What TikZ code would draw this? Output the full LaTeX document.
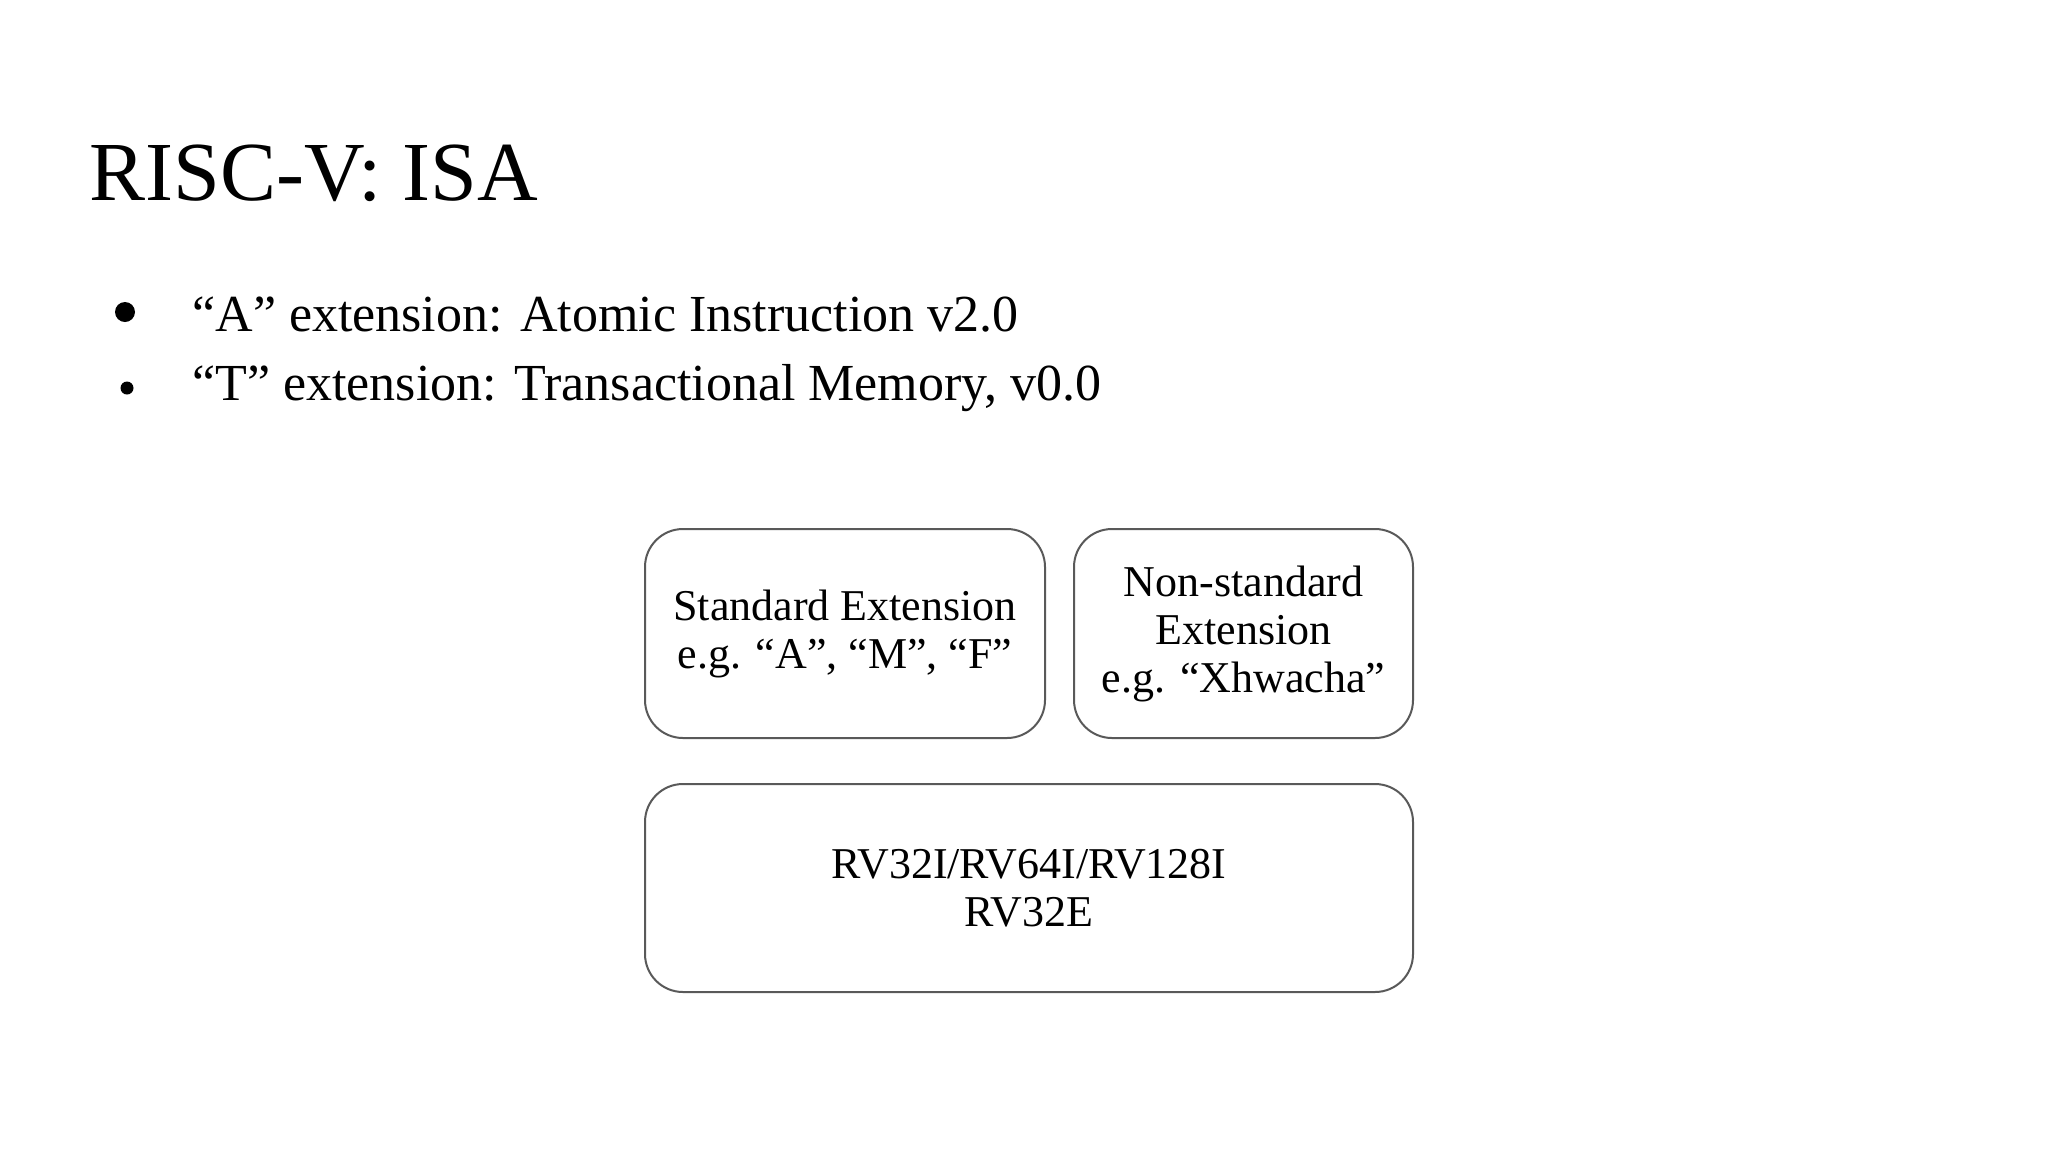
\documentclass[tikz,border=0pt]{standalone}
\usepackage{fontspec}
\setmainfont{Liberation Serif}
\begin{document}
\begin{tikzpicture}[x=0.5pt,y=-0.5pt,
  box/.style={draw=black!65,line width=1pt,rounded corners=19pt,align=center,
    font=\fontsize{22}{24}\selectfont,inner sep=0pt},
  bul/.style={anchor=base west,font=\fontsize{26}{30}\selectfont,inner sep=0pt}]
\useasboundingbox (0,0) rectangle (2048,1152);
\node[anchor=base west,inner sep=0pt,font=\fontsize{42}{48}\selectfont] (title) at (89,200) {RISC-V: ISA};
\node[circle,fill=black,inner sep=0pt,minimum size=10pt] (b1) at (125,312) {};
\node[circle,fill=black,inner sep=0pt,minimum size=6.5pt] (b2) at (127,388) {};
\node[bul] (t1) at (192,331) {“A” extension: Atomic Instruction v2.0};
\node[bul] (t2) at (192,400) {“T” extension: Transactional Memory, v0.0};
\node[box,minimum width=200pt,minimum height=104.5pt] (std) at (845,633.5) {Standard Extension\\e.g. “A”, “M”, “F”};
\node[box,minimum width=169.5pt,minimum height=104.5pt] (non) at (1243.5,633.5) {Non-standard\\Extension\\e.g. “Xhwacha”};
\node[box,minimum width=384pt,minimum height=104pt] (base) at (1029,888) {RV32I/RV64I/RV128I\\RV32E};
\end{tikzpicture}
\end{document}
